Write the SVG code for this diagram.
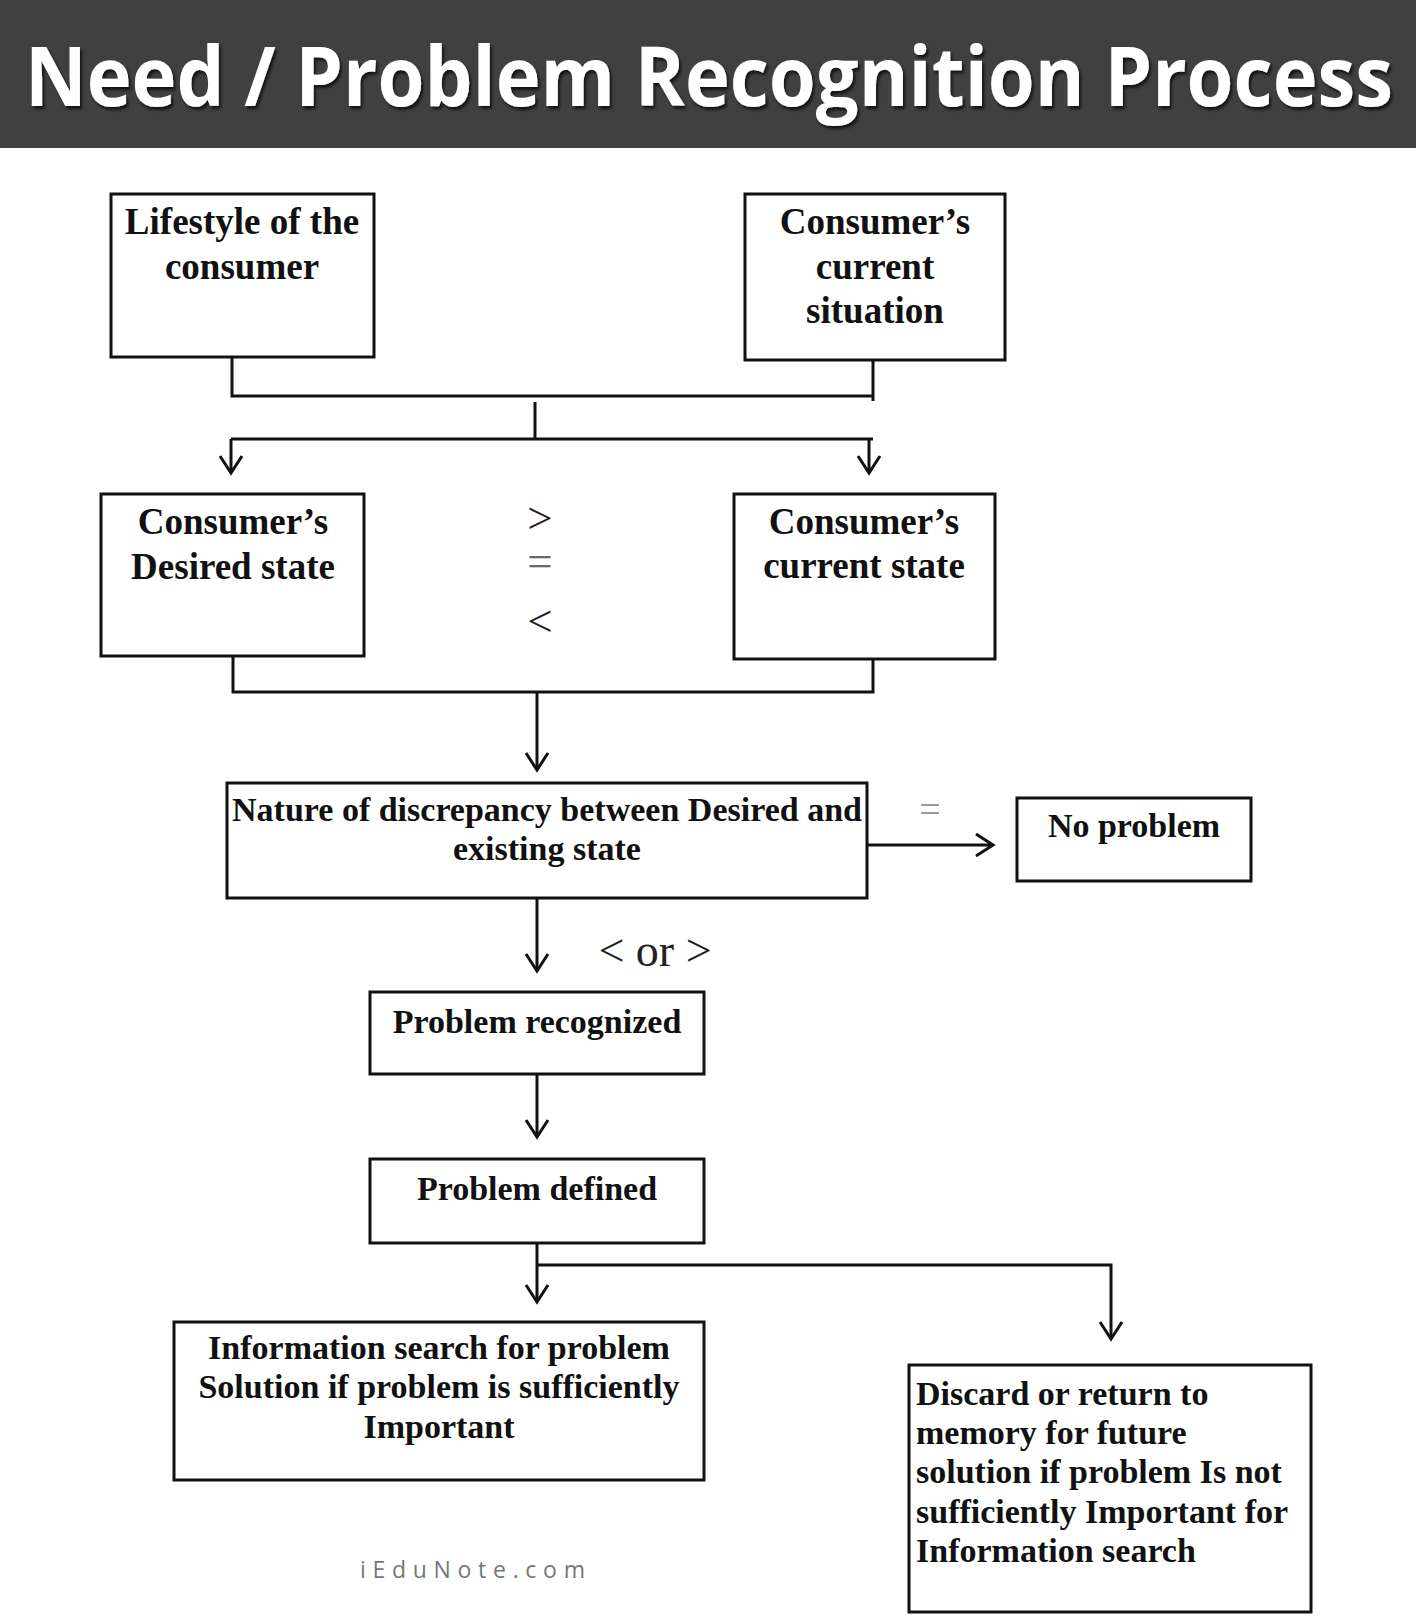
<svg xmlns="http://www.w3.org/2000/svg" width="1416" height="1624" viewBox="0 0 1416 1624">
  <style>
    .box { fill: #ffffff; stroke: #111111; stroke-width: 3; }
    .lbl { font-family: "Liberation Serif", "Times New Roman", serif; font-weight: bold; fill: #111111; }
    .l37 { font-size: 37px; }
    .l34 { font-size: 34px; }
    .mid { text-anchor: middle; }
    .cmp { font-family: "Liberation Serif", "Times New Roman", serif; font-weight: normal; fill: #222222; text-anchor: middle; }
    .conn { fill: none; stroke: #111111; stroke-width: 3; }
  </style>
  <defs>
    <marker id="arrow" markerUnits="userSpaceOnUse" markerWidth="30" markerHeight="30" viewBox="-20 -15 24 30" refX="0" refY="0" orient="auto">
      <path d="M-17,-11 L0,0 L-17,11" fill="none" stroke="#111111" stroke-width="3" stroke-linejoin="miter"/>
    </marker>
    <filter id="shadow" x="-5%" y="-20%" width="110%" height="150%">
      <feDropShadow dx="2" dy="3" stdDeviation="1.5" flood-color="#000000" flood-opacity="0.7"/>
    </filter>
  </defs>

  <rect width="1416" height="1624" fill="#ffffff"/>

  <g id="title">
    <rect x="0" y="0" width="1416" height="148" fill="#404040"/>
    <text x="25" y="106" font-family="'Open Sans', 'Noto Sans', sans-serif" font-weight="bold" font-size="83" fill="#ffffff" filter="url(#shadow)" textLength="1368" lengthAdjust="spacingAndGlyphs">Need / Problem Recognition Process</text>
  </g>

  <g id="connectors">
    <path class="conn" d="M232,357 V396 H873"/>
    <path class="conn" d="M873,360 V401"/>
    <path class="conn" d="M535,402 V439"/>
    <path class="conn" d="M231,439 H873"/>
    <path class="conn" d="M231,439 V473" marker-end="url(#arrow)"/>
    <path class="conn" d="M869,439 V473" marker-end="url(#arrow)"/>
    <path class="conn" d="M233,656 V692 H873 V659"/>
    <path class="conn" d="M537,692 V770" marker-end="url(#arrow)"/>
    <path class="conn" d="M867,845 H993" marker-end="url(#arrow)"/>
    <path class="conn" d="M537,898 V971" marker-end="url(#arrow)"/>
    <path class="conn" d="M537,1074 V1137" marker-end="url(#arrow)"/>
    <path class="conn" d="M537,1243 V1302" marker-end="url(#arrow)"/>
    <path class="conn" d="M537,1265 H1111 V1339" marker-end="url(#arrow)"/>
  </g>

  <g id="comparators">
    <text class="cmp" x="540" y="533" font-size="45">&gt;</text>
    <text class="cmp" x="540" y="576" font-size="45" fill="#666666" style="fill:#666666">=</text>
    <text class="cmp" x="540" y="636" font-size="45">&lt;</text>
    <text class="cmp" x="930" y="822" font-size="38" style="fill:#999999">=</text>
    <text class="cmp" x="655" y="966" font-size="46">&lt; or &gt;</text>
  </g>

  <g id="node-lifestyle">
    <rect class="box" x="111" y="194" width="263" height="163"/>
    <text class="lbl l37 mid" x="242" y="234">Lifestyle of the</text>
    <text class="lbl l37 mid" x="242" y="279">consumer</text>
  </g>

  <g id="node-current-situation">
    <rect class="box" x="745" y="194" width="260" height="166"/>
    <text class="lbl l37 mid" x="875" y="234">Consumer’s</text>
    <text class="lbl l37 mid" x="875" y="279">current</text>
    <text class="lbl l37 mid" x="875" y="323">situation</text>
  </g>

  <g id="node-desired-state">
    <rect class="box" x="101" y="494" width="263" height="162"/>
    <text class="lbl l37 mid" x="233" y="534">Consumer’s</text>
    <text class="lbl l37 mid" x="233" y="579">Desired state</text>
  </g>

  <g id="node-current-state">
    <rect class="box" x="734" y="494" width="261" height="165"/>
    <text class="lbl l37 mid" x="864" y="534">Consumer’s</text>
    <text class="lbl l37 mid" x="864" y="578">current state</text>
  </g>

  <g id="node-discrepancy">
    <rect class="box" x="227" y="783" width="640" height="115"/>
    <text class="lbl l34 mid" x="547" y="821">Nature of discrepancy between Desired and</text>
    <text class="lbl l34 mid" x="547" y="860">existing state</text>
  </g>

  <g id="node-no-problem">
    <rect class="box" x="1017" y="798" width="234" height="83"/>
    <text class="lbl l34 mid" x="1134" y="837">No problem</text>
  </g>

  <g id="node-problem-recognized">
    <rect class="box" x="370" y="992" width="334" height="82"/>
    <text class="lbl l34 mid" x="537" y="1033">Problem recognized</text>
  </g>

  <g id="node-problem-defined">
    <rect class="box" x="370" y="1159" width="334" height="84"/>
    <text class="lbl l34 mid" x="537" y="1200">Problem defined</text>
  </g>

  <g id="node-information-search">
    <rect class="box" x="174" y="1322" width="530" height="158"/>
    <text class="lbl l34 mid" x="439" y="1359">Information search for problem</text>
    <text class="lbl l34 mid" x="439" y="1398">Solution if problem is sufficiently</text>
    <text class="lbl l34 mid" x="439" y="1438">Important</text>
  </g>

  <g id="node-discard">
    <rect class="box" x="909" y="1365" width="402" height="247"/>
    <text class="lbl l34" x="916" y="1405">Discard or return to</text>
    <text class="lbl l34" x="916" y="1444">memory for future</text>
    <text class="lbl l34" x="916" y="1483">solution if problem Is not</text>
    <text class="lbl l34" x="916" y="1523">sufficiently Important for</text>
    <text class="lbl l34" x="916" y="1562">Information search</text>
  </g>

  <g id="watermark">
    <text x="360" y="1578" font-family="'Open Sans', 'Noto Sans', sans-serif" font-size="23" fill="#777777" letter-spacing="6.7">iEduNote.com</text>
  </g>
</svg>
